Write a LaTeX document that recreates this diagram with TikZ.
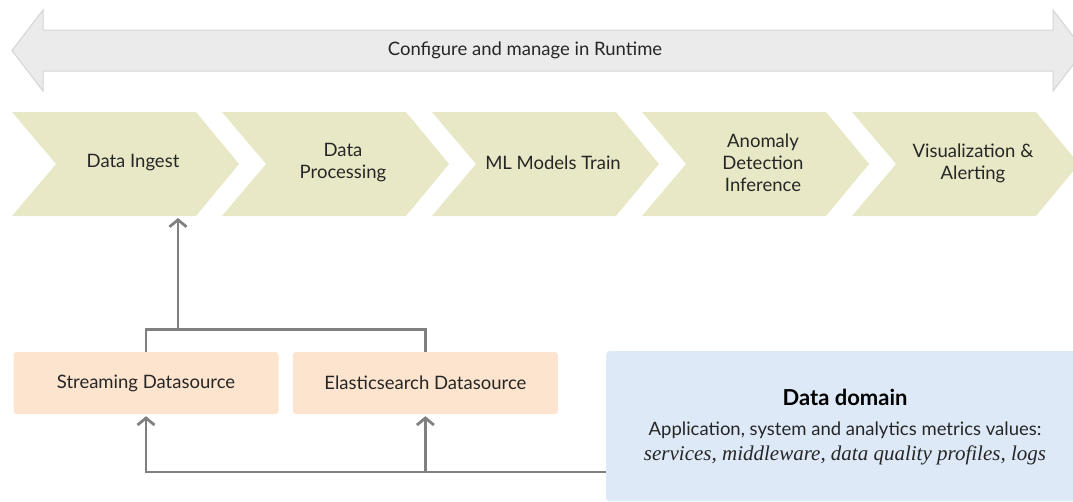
\documentclass[tikz,border=0pt]{standalone}
\usepackage{fontspec}
\setmainfont{Lato}
\newfontfamily\quotefont{Liberation Serif}
\usetikzlibrary{arrows.meta,positioning}
\definecolor{BandFill}{RGB}{235,235,235}
\definecolor{BandRule}{RGB}{212,212,212}
\definecolor{StageFill}{RGB}{232,232,198}
\definecolor{SourceFill}{RGB}{252,228,206}
\definecolor{DomainFill}{RGB}{221,233,247}
\definecolor{LinkGray}{RGB}{128,128,128}
\definecolor{InkGray}{RGB}{38,38,38}

\begin{document}
\begin{tikzpicture}[
  x=1pt, y=-1pt,
  font=\fontsize{18.5}{22}\selectfont,
  >={Straight Barb[length=7pt,width=17pt]},
  stagetext/.style={align=center, text=InkGray, inner sep=0pt},
  sourcebox/.style={rectangle, fill=SourceFill, rounded corners=3pt, minimum width=265pt, minimum height=62pt, text=InkGray},
  domainbox/.style={rectangle, fill=DomainFill, rounded corners=3pt, minimum width=480pt, minimum height=150pt, anchor=north west},
  link/.style={draw=LinkGray, line width=2.8pt},
]
\clip (0,0) rectangle (1073,501);
% runtime band
\filldraw[fill=BandFill, draw=BandRule, line width=1pt]
  (12,50.5) -- (43,10) -- (43,30) -- (1053,30) -- (1053,10) -- (1084,50.5)
  -- (1053,91) -- (1053,71) -- (43,71) -- (43,91) -- cycle;
\node[text=InkGray] (runtime) at (525,50) {Configure and manage in Runtime};
% pipeline stages
\foreach \x/\name/\txt in {12/ingest/Data Ingest, 222/process/Data\\Processing, 432/train/ML Models Train, 642/detect/Anomaly\\Detection\\Inference, 852/alert/Visualization \&\\Alerting} {
  \fill[StageFill] (\x,112) -- ++(184,0) -- ++(43,52) -- ++(-43,52) -- ++(-184,0) -- ++(44,-52) -- cycle;
  \node[stagetext] (\name) at (\x+121,163) {\txt};
}
% datasources
\node[sourcebox] (stream) at (146,383) {Streaming Datasource};
\node[sourcebox, right=14pt of stream] (elastic) {Elasticsearch Datasource};
\coordinate (merge) at (178,330);
\coordinate (ingestin) at (178,218);
\draw[link] (stream.north) -- ++(0,-22) -| (elastic.north);
\draw[link, ->] (merge) -- (ingestin);
% data domain
\node[domainbox] (domain) at (606,351) {};
\node[font=\fontsize{22}{26}\selectfont\bfseries, text=black] (domtitle) at (845,397) {Data domain};
\node[text=InkGray, inner sep=0pt] (domtext) at (845,430) {Application, system and analytics metrics values:};
\node[text=InkGray, inner sep=0pt, font=\fontsize{21}{25}\selectfont\quotefont\itshape] (domlist) at (845,455) {services, middleware, data quality profiles, logs};
\coordinate (feed) at (606,472);
\draw[link, ->, shorten >=2pt] (feed) -| (stream.south);
\draw[link, ->, shorten >=2pt] (elastic.south |- feed) -- (elastic.south);
\end{tikzpicture}
\end{document}
